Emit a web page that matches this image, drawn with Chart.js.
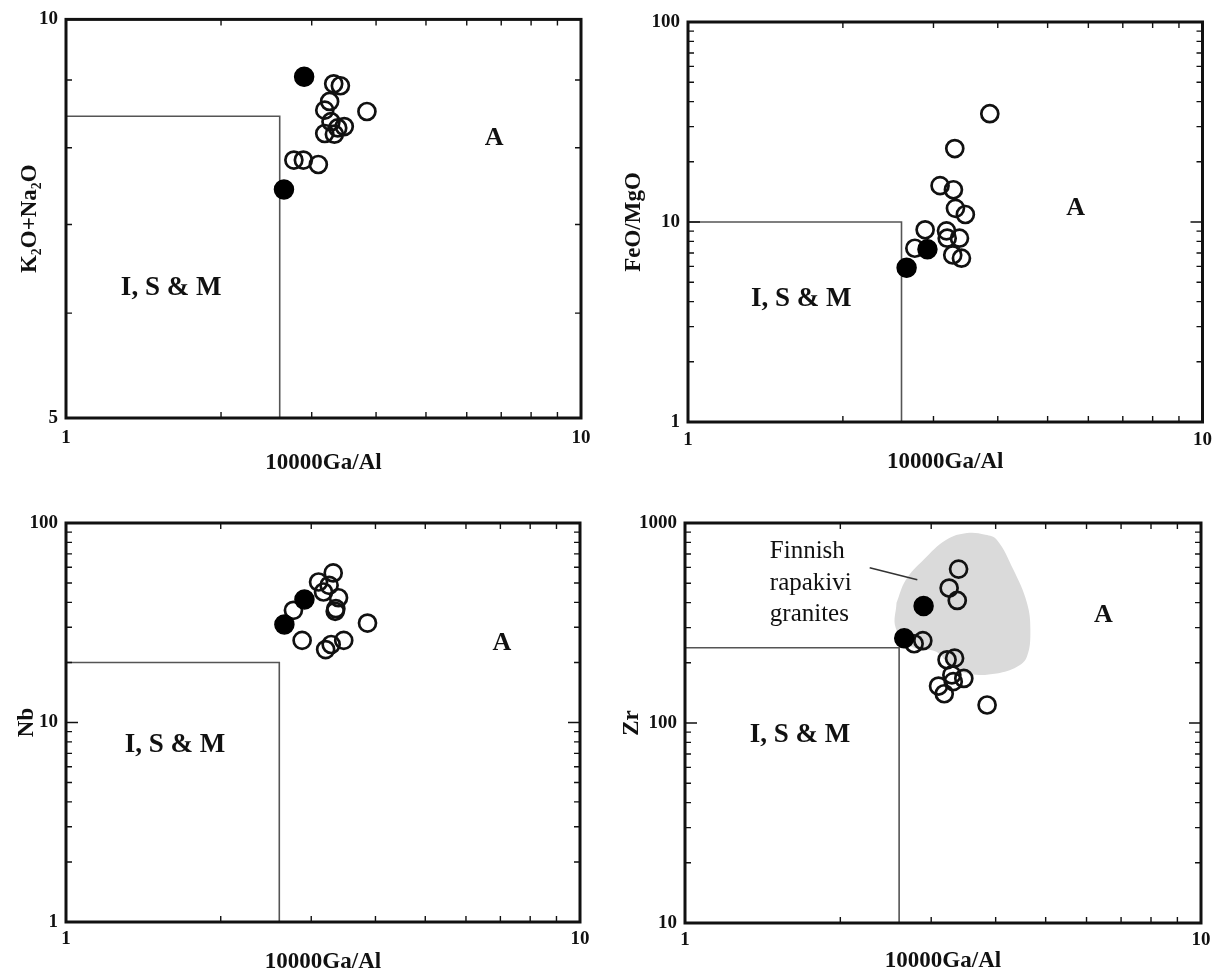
<!DOCTYPE html>
<html>
<head>
<meta charset="utf-8">
<title>Ga/Al discrimination diagrams</title>
<script src="https://cdn.jsdelivr.net/npm/chart.js@4.4.1/dist/chart.umd.min.js"></script>
<style>
  html, body { margin: 0; padding: 0; background: #fff; }
  #sheet { position: relative; width: 1219px; height: 973px; overflow: hidden; }
  #sheet canvas { position: absolute; }
</style>
</head>
<body>
<div id="sheet">
  <canvas id="alkChart" width="610" height="480" style="left:0;top:0"></canvas>
  <canvas id="feChart" width="609" height="480" style="left:610px;top:0"></canvas>
  <canvas id="nbChart" width="610" height="493" style="left:0;top:480px"></canvas>
  <canvas id="zrChart" width="609" height="493" style="left:610px;top:480px"></canvas>
</div>
<script>
(function () {
    'use strict';

    // Axis ticks (log scales) and the ticks that carry a label
    var gaTicks   = [1, 2, 3, 4, 5, 6, 7, 8, 9, 10];
    var gaLabels  = [1, 10];
    var alkTicks  = [5, 6, 7, 8, 9, 10];
    var alkLabels = [5, 10];
    var twoDecTicks  = [1, 2, 3, 4, 5, 6, 7, 8, 9, 10, 20, 30, 40, 50, 60, 70, 80, 90, 100];
    var twoDecLabels = [1, 10, 100];
    var zrTicks  = [10, 20, 30, 40, 50, 60, 70, 80, 90, 100, 200, 300, 400, 500, 600, 700, 800, 900, 1000];
    var zrLabels = [10, 100, 1000];

    // Field boundary between I, S & M and A-type granites
    var boundGa  = 2.6;
    var alkBound = 8.45;
    var feBound  = 10;
    var nbBound  = 20;
    var zrBound  = 238;

    // K2O+Na2O vs 10000Ga/Al
    var alkGaOpen   = [3.31, 3.41, 3.25, 3.18, 3.84, 3.27, 3.47, 3.37, 3.18, 3.32, 2.77, 2.89, 3.09];
    var alkOpen     = [8.94, 8.91, 8.67, 8.54, 8.52, 8.37, 8.30, 8.28, 8.20, 8.19, 7.83, 7.83, 7.77];
    var alkGaFilled = [2.90, 2.65];
    var alkFilled   = [9.05, 7.44];

    // FeO/MgO vs 10000Ga/Al
    var feGaOpen   = [3.86, 3.30, 3.09, 3.28, 3.31, 3.46, 2.89, 3.18, 3.19, 3.37, 2.76, 3.27, 3.40];
    var feOpen     = [34.8, 23.3, 15.2, 14.5, 11.7, 10.9, 9.14, 9.03, 8.30, 8.30, 7.39, 6.84, 6.59];
    var feGaFilled = [2.66, 2.92];
    var feFilled   = [5.91, 7.31];

    // Nb vs 10000Ga/Al
    var nbGaOpen   = [2.77, 3.31, 3.10, 3.25, 3.17, 3.39, 3.35, 3.34, 3.86, 2.88, 3.47, 3.28, 3.20];
    var nbOpen     = [36.5, 56.2, 50.6, 48.7, 45.1, 42.2, 37.2, 36.1, 31.5, 25.8, 25.8, 24.6, 23.2];
    var nbGaFilled = [2.66, 2.91];
    var nbFilled   = [31.0, 41.3];

    // Zr vs 10000Ga/Al
    var zrGaOpen   = [3.39, 3.25, 3.37, 2.89, 2.78, 3.22, 3.33, 3.47, 3.29, 3.31, 3.10, 3.18, 3.85];
    var zrOpen     = [588, 473, 410, 258, 249, 207, 211, 167, 174, 161, 153, 140, 123];
    var zrGaFilled = [2.90, 2.66];
    var zrFilled   = [385, 265];

    // Finnish rapakivi granite field (outline) and its label leader
    var rapakiviGa = [2.57, 2.68, 2.90, 3.21, 3.52, 3.82, 4.02, 4.33, 4.60, 4.67, 4.60, 4.40, 4.02, 3.57, 3.27, 3.07, 2.73, 2.56, 2.57];
    var rapakiviZr = [399, 520, 655, 825, 891, 874, 825, 583, 398, 292, 215, 191, 177, 176, 193, 227, 243, 299, 399];
    var leaderGa = [2.28, 2.82];
    var leaderZr = [597, 520];

    var SERIF = '"Liberation Serif", "Times New Roman", serif';
    var INK = '#111';

    function pts(xs, ys) {
        return xs.map(function (x, i) { return { x: x, y: ys[i] }; });
    }

    function boundary(yBound, yMin) {
        return [{ x: 1, y: yBound }, { x: boundGa, y: yBound }, { x: boundGa, y: yMin }];
    }

    // Frame with inward minor/major tick marks on all four sides
    var frameTicks = {
        id: 'frameTicks',
        afterDatasetsDraw: function (chart) {
            var ctx = chart.ctx, a = chart.chartArea;
            var xs = chart.scales.x, ys = chart.scales.y;
            ctx.save();
            ctx.strokeStyle = INK;
            ctx.lineWidth = 1.4;
            ctx.beginPath();
            xs.ticks.forEach(function (t) {
                if (t.value <= xs.min || t.value >= xs.max) return;
                var px = xs.getPixelForValue(t.value);
                var len = t.major ? 12 : 6;
                ctx.moveTo(px, a.bottom); ctx.lineTo(px, a.bottom - len);
                ctx.moveTo(px, a.top);    ctx.lineTo(px, a.top + len);
            });
            ys.ticks.forEach(function (t) {
                if (t.value <= ys.min || t.value >= ys.max) return;
                var py = ys.getPixelForValue(t.value);
                var len = t.major ? 12 : 6;
                ctx.moveTo(a.left, py);  ctx.lineTo(a.left + len, py);
                ctx.moveTo(a.right, py); ctx.lineTo(a.right - len, py);
            });
            ctx.stroke();
            ctx.lineWidth = 3;
            ctx.strokeRect(a.left, a.top, a.right - a.left, a.bottom - a.top);
            ctx.restore();
        }
    };

    // Field names placed at data coordinates
    var fieldText = {
        id: 'fieldText',
        afterDatasetsDraw: function (chart, args, opts) {
            var ctx = chart.ctx, xs = chart.scales.x, ys = chart.scales.y;
            ctx.save();
            ctx.fillStyle = INK;
            ctx.textBaseline = 'middle';
            (opts.items || []).forEach(function (it) {
                ctx.font = it.font;
                ctx.textAlign = it.align || 'center';
                var px = xs.getPixelForValue(it.x);
                var py = ys.getPixelForValue(it.y);
                it.lines.forEach(function (s, i) {
                    ctx.fillText(s, px, py + i * (it.gap || 0));
                });
            });
            ctx.restore();
        }
    };

    function logAxis(min, max, tickVals, labelVals, title, lay, horizontal) {
        return {
            type: 'logarithmic',
            min: min,
            max: max,
            afterBuildTicks: function (scale) {
                scale.ticks = tickVals.map(function (v) {
                    return { value: v, major: labelVals.indexOf(v) >= 0 };
                });
            },
            afterFit: function (scale) {
                if (horizontal) { scale.height = lay.xH; } else { scale.width = lay.yW; }
            },
            grid:   { display: false, drawTicks: false },
            border: { display: false },
            ticks: {
                autoSkip: false,
                maxRotation: 0,
                minRotation: 0,
                padding: horizontal ? lay.xTickPad : 8,
                color: INK,
                font: { family: SERIF, size: 19, weight: 'bold' },
                callback: function (v) { return labelVals.indexOf(v) >= 0 ? String(v) : ''; }
            },
            title: {
                display: true,
                text: title,
                color: INK,
                font: { family: SERIF, size: 23, weight: 'bold' },
                padding: horizontal ? { top: 0, bottom: lay.xTitlePad } : { top: lay.yTitlePad, bottom: 0 }
            }
        };
    }

    function openSet(data) {
        return {
            data: data, order: 0,
            pointRadius: 8.5, pointBorderWidth: 2.7,
            pointBorderColor: INK, pointBackgroundColor: 'rgba(0,0,0,0)'
        };
    }

    function filledSet(data) {
        return {
            data: data, order: 0,
            pointRadius: 9.5, pointBorderWidth: 1.5,
            pointBorderColor: '#000', pointBackgroundColor: '#000'
        };
    }

    function lineSet(data, color, width) {
        return {
            type: 'line', data: data, order: 1,
            borderColor: color, borderWidth: width,
            pointRadius: 0, fill: false, tension: 0
        };
    }

    function makeChart(id, cfg) {
        var lay = cfg.layout;
        new Chart(document.getElementById(id), {
            type: 'scatter',
            data: { datasets: cfg.datasets },
            options: {
                responsive: false,
                animation: false,
                devicePixelRatio: 1,
                layout: { padding: { left: 0, right: lay.right, top: lay.top, bottom: 0 } },
                scales: {
                    x: logAxis(1, 10, gaTicks, gaLabels, '10000Ga/Al', lay, true),
                    y: logAxis(cfg.yMin, cfg.yMax, cfg.yTicks, cfg.yLabels, cfg.yTitle, lay, false)
                },
                plugins: {
                    legend:  { display: false },
                    tooltip: { enabled: false },
                    fieldText: { items: cfg.text }
                }
            },
            plugins: [frameTicks, fieldText]
        });
    }

    var bigFont = 'bold 27px ' + SERIF;
    var aFont   = 'bold 26px ' + SERIF;

    makeChart('alkChart', {
        layout: { right: 29, top: 17, yW: 66, xH: 62, xTickPad: 9, xTitlePad: 3, yTitlePad: 16 },
        yMin: 5, yMax: 10, yTicks: alkTicks, yLabels: alkLabels,
        yTitle: 'K\u2082O+Na\u2082O',
        datasets: [
            filledSet(pts(alkGaFilled, alkFilled)),
            openSet(pts(alkGaOpen, alkOpen)),
            lineSet(boundary(alkBound, 5), '#555', 1.6)
        ],
        text: [
            { x: 1.60, y: 6.27, lines: ['I, S & M'], font: bigFont },
            { x: 6.78, y: 8.13, lines: ['A'], font: aFont }
        ]
    });

    makeChart('feChart', {
        layout: { right: 15, top: 22, yW: 78, xH: 58, xTickPad: 7, xTitlePad: 4, yTitlePad: 10 },
        yMin: 1, yMax: 100, yTicks: twoDecTicks, yLabels: twoDecLabels,
        yTitle: 'FeO/MgO',
        datasets: [
            filledSet(pts(feGaFilled, feFilled)),
            openSet(pts(feGaOpen, feOpen)),
            lineSet(boundary(feBound, 1), '#555', 1.6)
        ],
        text: [
            { x: 1.66, y: 4.12, lines: ['I, S & M'], font: bigFont },
            { x: 5.67, y: 11.7, lines: ['A'], font: aFont }
        ]
    });

    makeChart('nbChart', {
        layout: { right: 30, top: 43, yW: 66, xH: 51, xTickPad: 6, xTitlePad: -3, yTitlePad: 13 },
        yMin: 1, yMax: 100, yTicks: twoDecTicks, yLabels: twoDecLabels,
        yTitle: 'Nb',
        datasets: [
            filledSet(pts(nbGaFilled, nbFilled)),
            openSet(pts(nbGaOpen, nbOpen)),
            lineSet(boundary(nbBound, 1), '#555', 1.6)
        ],
        text: [
            { x: 1.63, y: 7.69, lines: ['I, S & M'], font: bigFont },
            { x: 7.05, y: 24.9, lines: ['A'], font: aFont }
        ]
    });

    var rapakivi = lineSet(pts(rapakiviGa, rapakiviZr), 'rgba(0,0,0,0)', 0);
    rapakivi.order = 2;
    rapakivi.fill = 'shape';
    rapakivi.tension = 0.4;
    rapakivi.backgroundColor = '#dadada';

    makeChart('zrChart', {
        layout: { right: 18, top: 43, yW: 75, xH: 50, xTickPad: 6, xTitlePad: -2, yTitlePad: 8 },
        yMin: 10, yMax: 1000, yTicks: zrTicks, yLabels: zrLabels,
        yTitle: 'Zr',
        datasets: [
            filledSet(pts(zrGaFilled, zrFilled)),
            openSet(pts(zrGaOpen, zrOpen)),
            lineSet(boundary(zrBound, 10), '#555', 1.6),
            lineSet(pts(leaderGa, leaderZr), '#333', 1.5),
            rapakivi
        ],
        text: [
            { x: 1.67, y: 87, lines: ['I, S & M'], font: bigFont },
            { x: 6.47, y: 347, lines: ['A'], font: aFont },
            { x: 1.46, y: 720, lines: ['Finnish', 'rapakivi', 'granites'], font: '25px ' + SERIF, align: 'left', gap: 31.6 }
        ]
    });
}());
</script>
</body>
</html>
